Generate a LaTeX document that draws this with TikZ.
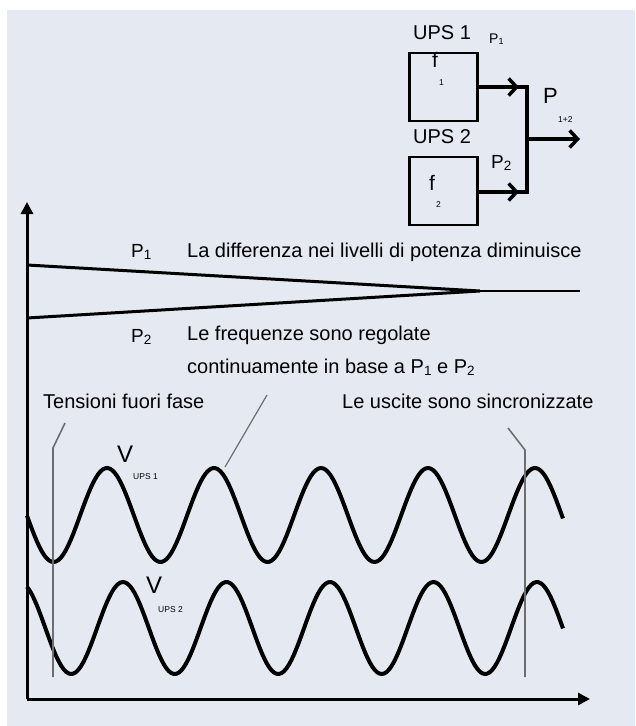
\documentclass[tikz,border=0pt]{standalone}
\usepackage{fontspec}
\setmainfont{Liberation Sans}
\usepackage{xcolor}
\definecolor{bgc}{HTML}{E5EAF2}
\definecolor{lead}{HTML}{6E6E6E}
\usetikzlibrary{arrows.meta,positioning,calc}
\newcommand{\fs}[1]{\fontsize{#1}{#1}\selectfont}
\newcommand{\idx}[1]{\raisebox{-2.5pt}{\fs{13.5}#1}}
\tikzset{
  >={Triangle[length=12pt,width=12pt]},
  blk/.style={draw,line width=2.7pt,minimum width=68pt,minimum height=68pt,inner sep=0pt},
  wire/.style={line width=3.5pt},
  barr/.style={wire,-{Straight Barb[length=8pt,width=17pt,line width=3.5pt]}},
  axis/.style={line width=3pt,->},
  plin/.style={line width=3pt},
  wave/.style={line width=4pt,line join=round},
  leadl/.style={draw=lead,line width=1.6pt},
  txt/.style={font=\fs{20},inner sep=0pt,anchor=base west},
  sml/.style={font=\fs{8.5},inner sep=0pt,anchor=base west},
}
\begin{document}
\begin{tikzpicture}[x=1pt,y=-1pt]
\useasboundingbox (0,0) rectangle (635,726);
\fill[bgc] (7,10) rectangle (635,726);

% two UPS units in parallel
\node[blk] (ups1) at (443.5,87) {};
\node[blk] (ups2) at (443.5,191) {};
\node[txt] (ups1l) at (413,39) {UPS 1};
\node[txt] (ups2l) at (413,143) {UPS 2};
\node[txt,font=\fs{21}] (f1) at (432,67) {f};
\node[sml] (f1s) at (439,85) {1};
\node[txt,font=\fs{21}] (f2) at (429,190) {f};
\node[sml] (f2s) at (436,207) {2};
\node[txt,font=\fs{14}] (pw1) at (489,43) {P\raisebox{-1pt}{\fs{9}1}};
\node[txt,font=\fs{19}] (pw2) at (491,168) {P\idx{2}};
\node[txt,font=\fs{22}] (ptot) at (543,103) {P};
\node[sml] (ptots) at (558,122) {1+2};
\coordinate (j1) at (527,87);
\coordinate (j2) at (527,192);
\coordinate (jout) at (527,139);
\coordinate (a1) at (519,87);
\coordinate (a2) at (519,192);
\coordinate (out) at (580,139);
\draw[wire] (ups1.east) -- (j1) -- (j2) -- (ups2.east |- j2);
\draw[barr] (ups1.east) -- (a1);
\draw[barr] (ups2.east |- j2) -- (a2);
\draw[barr] (jout) -- (out);

% axes
\coordinate (org) at (27,699);
\coordinate (ytop) at (27,202);
\coordinate (xend) at (590,699);
\draw[axis] (org) -- (ytop);
\draw[axis] (org) -- (xend);

% power levels
\coordinate (p1) at (27,265);
\coordinate (p2) at (27,318);
\coordinate (conv) at (480,291);
\coordinate (pend) at (580,291);
\draw[plin] (p1) -- (conv) -- (p2);
\draw[line width=2pt] (conv) -- (pend);
\node[txt,font=\fs{19}] (lp1) at (131,257) {P\idx{1}};
\node[txt,font=\fs{19}] (lp2) at (131,342) {P\idx{2}};
\node[txt] (diff) at (187,257) {La differenza nei livelli di potenza diminuisce};
\node[txt] (freq) at (187,340) {Le frequenze sono regolate};
\node[txt] (freq2) at (187,373) {continuamente in base a P\idx{1} e P\idx{2}};
\node[txt] (fuori) at (43,408) {Tensioni fuori fase};
\node[txt] (sinc) at (342,408) {Le uscite sono sincronizzate};

% output voltages
\draw[wave] plot[domain=27:563,samples=220] (\x,{515-47*sin((\x-80.25)/107*360)});
\draw[wave] plot[domain=27:563,samples=220] (\x,{628-46*sin((\x-511.1)/103.5*360)});
\node[txt,font=\fs{24}] (v1) at (117,462) {V};
\node[sml] (v1s) at (133,479) {UPS 1};
\node[txt,font=\fs{24}] (v2) at (146,593) {V};
\node[sml] (v2s) at (158,612) {UPS 2};

% leaders
\coordinate (la) at (65,423);
\coordinate (lb) at (53,448);
\coordinate (lc) at (53,677);
\coordinate (ma) at (267,395);
\coordinate (mb) at (225,467);
\coordinate (ra) at (508,428);
\coordinate (rb) at (525,450);
\coordinate (rc) at (525,677);
\draw[leadl] (la) -- (lb) -- (lc);
\draw[leadl,line width=1.2pt] (ma) -- (mb);
\draw[leadl] (ra) -- (rb) -- (rc);
\end{tikzpicture}
\end{document}
